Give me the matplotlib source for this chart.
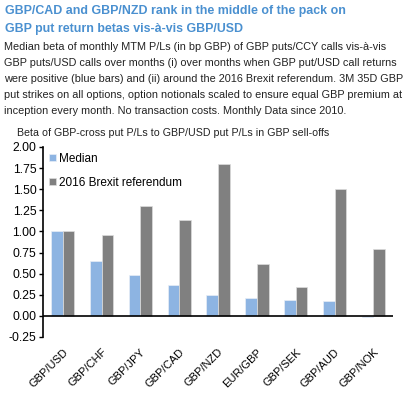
import numpy as np
import matplotlib.pyplot as plt

plt.rcParams['font.family'] = ['Liberation Sans', 'DejaVu Sans']

# data
pairs = ['GBP/USD', 'GBP/CHF', 'GBP/JPY', 'GBP/CAD', 'GBP/NZD',
         'EUR/GBP', 'GBP/SEK', 'GBP/AUD', 'GBP/NOK']
median = [1.00, 0.65, 0.49, 0.37, 0.25, 0.21, 0.19, 0.18, -0.01]
brexit = [1.00, 0.96, 1.30, 1.13, 1.80, 0.61, 0.34, 1.50, 0.79]
yticks = [-0.25, 0.0, 0.25, 0.5, 0.75, 1.0, 1.25, 1.5, 1.75, 2.0]

blue = '#8DB4E2'
grey = '#808080'
title_blue = '#4A90D0'

fig = plt.figure(figsize=(4.17, 3.93), dpi=100)

# header text
fig.text(0.012, 0.972, 'GBP/CAD and GBP/NZD rank in the middle of the pack on',
         fontsize=8.9, fontweight='bold', color=title_blue, va='center')
fig.text(0.012, 0.926, 'GBP put return betas vis-à-vis GBP/USD',
         fontsize=8.9, fontweight='bold', color=title_blue, va='center')
body = ['Median beta of monthly MTM P/Ls (in bp GBP) of GBP puts/CCY calls vis-à-vis',
        'GBP puts/USD calls over months (i) over months when GBP put/USD call returns',
        'were positive (blue bars) and (ii) around the 2016 Brexit referendum. 3M 35D GBP',
        'put strikes on all options, option notionals scaled to ensure equal GBP premium at',
        'inception every month. No transaction costs. Monthly Data since 2010.']
for i, line in enumerate(body):
    fig.text(0.01, 0.880 - i * 0.0405, line, fontsize=7.8, color='#222222', va='center')

fig.text(0.04, 0.662, 'Beta of GBP-cross put P/Ls to GBP/USD put P/Ls in GBP sell-offs',
         fontsize=7.7, color='#222222', va='center')

ax = fig.add_axes([0.104, 0.1425, 0.838, 0.4835])
x = np.arange(len(pairs))
w = 0.3
ax.bar(x - w / 2, median, w, color=blue, edgecolor='#e8eef6', linewidth=0.5, label='Median')
ax.bar(x + w / 2, brexit, w, color=grey, edgecolor='#dddddd', linewidth=0.5,
       label='2016 Brexit referendum')
ax.axhline(0, color='black', linewidth=1.2)

ax.set_xlim(-0.5, 8.5)
ax.set_ylim(-0.25, 2.0)
ax.set_yticks(yticks)
ax.set_yticklabels([f'{v:.2f}' for v in yticks], fontsize=8.8)
ax.set_xticks(x)
ax.set_xticklabels(pairs, rotation=45, ha='right', rotation_mode='anchor', fontsize=8.0)
ax.tick_params(axis='x', length=0, pad=7)
ax.tick_params(axis='y', direction='out', length=3, width=1, pad=2)

for s in ['top', 'right', 'bottom']:
    ax.spines[s].set_visible(False)
ax.spines['left'].set_linewidth(1.2)

ax.legend(loc='upper left', frameon=False, fontsize=8.5, handlelength=0.6,
          handleheight=0.6, handletextpad=0.2, labelspacing=1.0,
          borderaxespad=0.1, bbox_to_anchor=(0.0, 1.0))

fig.savefig('out.png', dpi=100)
